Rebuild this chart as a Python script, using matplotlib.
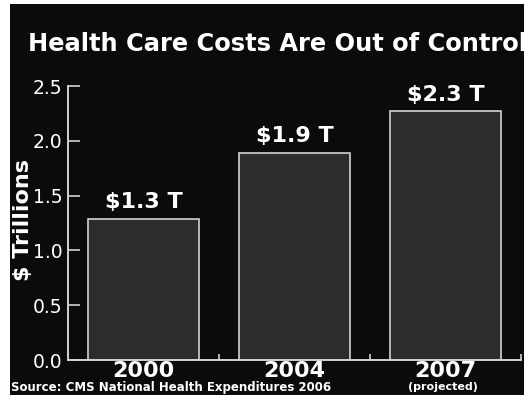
import matplotlib.pyplot as plt
from matplotlib.patches import Rectangle

years = ["2000", "2004", "2007"]
costs = [1.29, 1.89, 2.27]
cost_labels = ["$1.3 T", "$1.9 T", "$2.3 T"]
y_ticks = [0.0, 0.5, 1.0, 1.5, 2.0, 2.5]

BG = "#0b0b0b"
BAR = "#2c2c2c"
EDGE = "#d2d2d2"

fig = plt.figure(figsize=(5.24, 4.00), dpi=100, facecolor="white")
fig.patches.append(Rectangle((10 / 524, 5 / 400), 1, 391 / 400,
                             transform=fig.transFigure, facecolor=BG,
                             edgecolor="none", zorder=-10))

ax = fig.add_axes([68 / 524, 40 / 400, 453 / 524, 274 / 400])
ax.set_facecolor("none")

x = list(range(len(years)))
ax.bar(x, costs, width=0.73, color=BAR, edgecolor=EDGE, linewidth=1.2)

for xi, v, lab in zip(x, costs, cost_labels):
    ax.text(xi, v + 0.06, lab, ha="center", va="bottom", color="white",
            fontsize=16, fontweight="bold", family="DejaVu Sans")

ax.set_xlim(-0.5, 2.5)
ax.set_ylim(0, 2.5)
ax.set_yticks(y_ticks)
ax.set_yticklabels([f"{t:.1f}" for t in y_ticks])
ax.set_xticks(x)
ax.set_xticklabels(years)
ax.set_xticks([0.5, 1.5, 2.5], minor=True)

ax.tick_params(axis="y", direction="in", length=8.5, width=1.2, color=EDGE,
               labelcolor="white", labelsize=13.5, pad=4)
ax.tick_params(axis="x", which="major", length=0, labelcolor="white",
               labelsize=16, pad=1)
for lab in ax.get_xticklabels():
    lab.set_fontweight("bold")
ax.tick_params(axis="x", which="minor", direction="in", length=4, width=1.2,
               color=EDGE)

for s in ["top", "right"]:
    ax.spines[s].set_visible(False)
for s in ["left", "bottom"]:
    ax.spines[s].set_color(EDGE)
    ax.spines[s].set_linewidth(1.4)

ax.set_ylabel("$ Trillions", color="white", fontsize=16, fontweight="bold")
ax.yaxis.set_label_coords(-0.078, 0.51)

fig.text(28 / 524, 1 - 44 / 400, "Health Care Costs Are Out of Control",
         color="white", fontsize=17.4, fontweight="bold", va="center", ha="left")
fig.text(11 / 524, 1 - 387 / 400, "Source: CMS National Health Expenditures 2006",
         color="white", fontsize=8.5, fontweight="bold", va="center", ha="left")
fig.text(443 / 524, 1 - 387 / 400, "(projected)", color="white", fontsize=8,
         fontweight="bold", va="center", ha="center")

fig.savefig("out.png", dpi=100, facecolor="white")
